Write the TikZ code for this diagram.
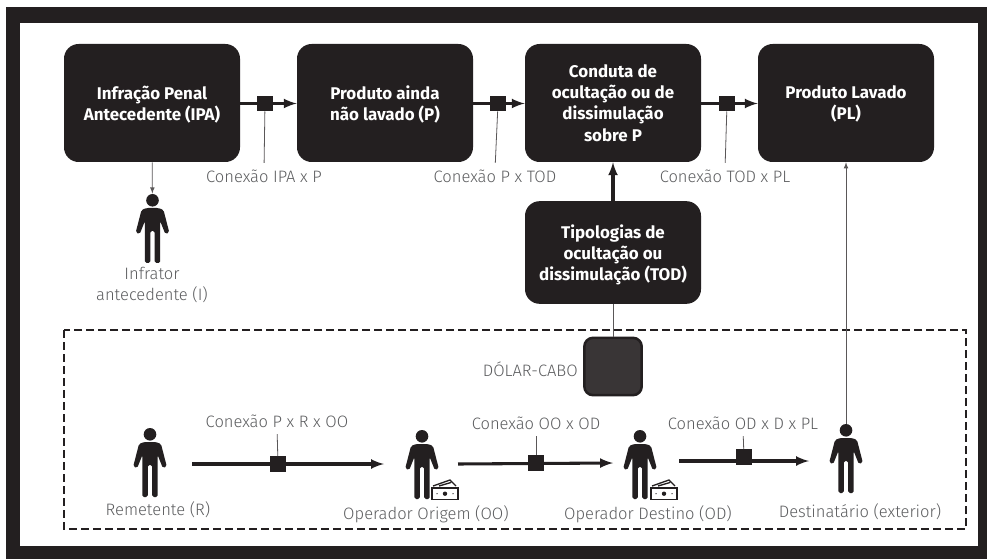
\documentclass[tikz,border=0pt]{standalone}
\usepackage{fontspec}
\setmainfont{Fira Sans}
\newfontfamily\labelfont{Fira Sans Light}
\definecolor{boxblack}{HTML}{231F20}
\definecolor{labelgray}{HTML}{5C5D5F}
\tikzset{
	stagebox/.style={draw=none, fill=boxblack, rounded corners=11pt, text=white, align=center,
		font=\bfseries\fontsize{12.7}{15.8}\selectfont, minimum width=132pt, inner sep=0pt, text depth=-2.5pt},
	linkbox/.style={draw=none, fill=boxblack, minimum size=11.6pt, inner sep=0pt},
	linklabel/.style={text=labelgray, align=center, inner sep=0pt, text depth=0pt,
		font=\labelfont\fontsize{12.4}{15.8}\selectfont},
	thick link/.style={boxblack, line width=2.3pt, -latex},
	thin link/.style={boxblack!75, line width=0.6pt},
	leader/.style={thin link, shorten >=5pt},
	person/.pic={
		\node (-body) [minimum width=25pt, minimum height=52pt, inner sep=0pt] at (0,34.5) {};
		\fill [boxblack] (0,6.3) circle (6.3);
		\fill [boxblack, rounded corners=1.2pt] (-7.6,69) -- (-7.6,27) -- (-12.8,40) -- (-16.8,38.5)
			-- (-11,16) -- (-6,14) -- (6,14) -- (11,16) -- (16.8,38.5) -- (12.8,40) -- (7.6,27) -- (7.6,69)
			-- (2.2,69) -- (2.2,37) -- (-2.2,37) -- (-2.2,69) -- cycle;
	},
	money/.pic={
		\draw [boxblack, line width=1pt] (0,0) rectangle (26,11.5);
		\fill [boxblack] (13,5.7) circle (2.2) (5,5.7) circle (0.7) (21,5.7) circle (0.7);
		\draw [boxblack, line width=1pt] (1,-2) -- (18,-8) -- (24,-2) (7,-2) -- (19,-5.5);
	}
}
\begin{document}
\begin{tikzpicture}[x=0.75pt, y=-0.75pt]
	\useasboundingbox (0,0) rectangle (987,559);
	\fill [boxblack] (6,7) rectangle (987,559);
	\fill [white] (20,23) rectangle (978,546);
	% etapas
	\node (ipa) [stagebox, minimum height=88.5pt] at (152,103) {Infração Penal\\Antecedente (IPA)};
	\node (prod) [stagebox, minimum height=88.5pt] at (385,103) {Produto ainda\\não lavado (P)};
	\node (cond) [stagebox, minimum height=88.5pt] at (613,103) {Conduta de\\ocultação ou de\\dissimulação\\sobre P};
	\node (lav) [stagebox, minimum height=88.5pt] at (846,103) {Produto Lavado\\(PL)};
	\node (tod) [stagebox, minimum height=77pt] at (613,252.5) {Tipologias de\\ocultação ou\\dissimulação (TOD)};
	\node (cabo) [draw=boxblack, fill=boxblack!90!white, line width=1.9pt, rounded corners=6.5pt,
		minimum size=43pt, inner sep=0pt] at (613,366.5) {};
	\node (cabolabel) [linklabel, anchor=east] at (578,369) {DÓLAR-CABO};
	\draw [boxblack, line width=2.2pt, dash pattern=on 6.2pt off 2.8pt] (64,330) rectangle (966,529);
	% pessoas
	\pic (infr) at (152.5,194) {person};
	\pic (rem) at (150,428) {person};
	\pic (orig) at (422,430) {person};
	\pic (dest) at (640,430) {person};
	\pic (dext) at (846,424) {person};
	\pic (origm) at (432,488) {money};
	\pic (destm) at (651,488) {money};
	\node [linklabel] (infrlabel) at (152,284) {Infrator\\antecedente (I)};
	\node [linklabel] (remlabel) at (158,509) {Remetente (R)};
	\node [linklabel] (origlabel) at (426,513) {Operador Origem (OO)};
	\node [linklabel] (destlabel) at (648,513) {Operador Destino (OD)};
	\node [linklabel] (dextlabel) at (860,511) {Destinatário (exterior)};
	% conexoes
	\node (lipa) [linkbox] at (265,103.5) {};
	\node (ltod) [linkbox] at (498,103.5) {};
	\node (lpl) [linkbox] at (727,103.5) {};
	\node (lrem) [linkbox] at (278,464) {};
	\node (lorig) [linkbox] at (536,463) {};
	\node (ldest) [linkbox] at (744,457) {};
	\node (tipa) [linklabel] at (264,176) {Conexão IPA x P};
	\node (ttod) [linklabel] at (495,176) {Conexão P x TOD};
	\node (tpl) [linklabel] at (725,176) {Conexão TOD x PL};
	\node (trem) [linklabel] at (277,421) {Conexão P x R x OO};
	\node (torig) [linklabel] at (536,423) {Conexão OO x OD};
	\node (tdest) [linklabel] at (743,423) {Conexão OD x D x PL};
	\draw [thick link] (ipa.east |- lipa) -- (prod.west |- lipa);
	\draw [thick link] (prod.east |- ltod) -- (cond.west |- ltod);
	\draw [thick link] (cond.east |- lpl) -- (lav.west |- lpl);
	\draw [thick link] (tod) -- (cond);
	\coordinate (remout) at (192,464);
	\coordinate (remin) at (384,464);
	\coordinate (origout) at (458,464);
	\coordinate (origin) at (613,463);
	\coordinate (destout) at (679,461);
	\coordinate (destin) at (809,461);
	\draw [thick link] (remout) -- (remin);
	\draw [thick link] (origout) -- (origin);
	\draw [thick link] (destout) -- (destin);
	\foreach \a/\b in {lipa/tipa, ltod/ttod, lpl/tpl}
		\draw [leader] (\a) -- (\b.north);
	\foreach \a/\b in {lrem/trem, lorig/torig, ldest/tdest}
		\draw [leader] (\a) -- (\b.south);
	\draw [thin link] (tod) -- (cabo);
	\draw [thin link, -latex] (ipa) -- (infr-body);
	\draw [thin link, -latex] (dext-body) -- (lav);
\end{tikzpicture}
\end{document}
